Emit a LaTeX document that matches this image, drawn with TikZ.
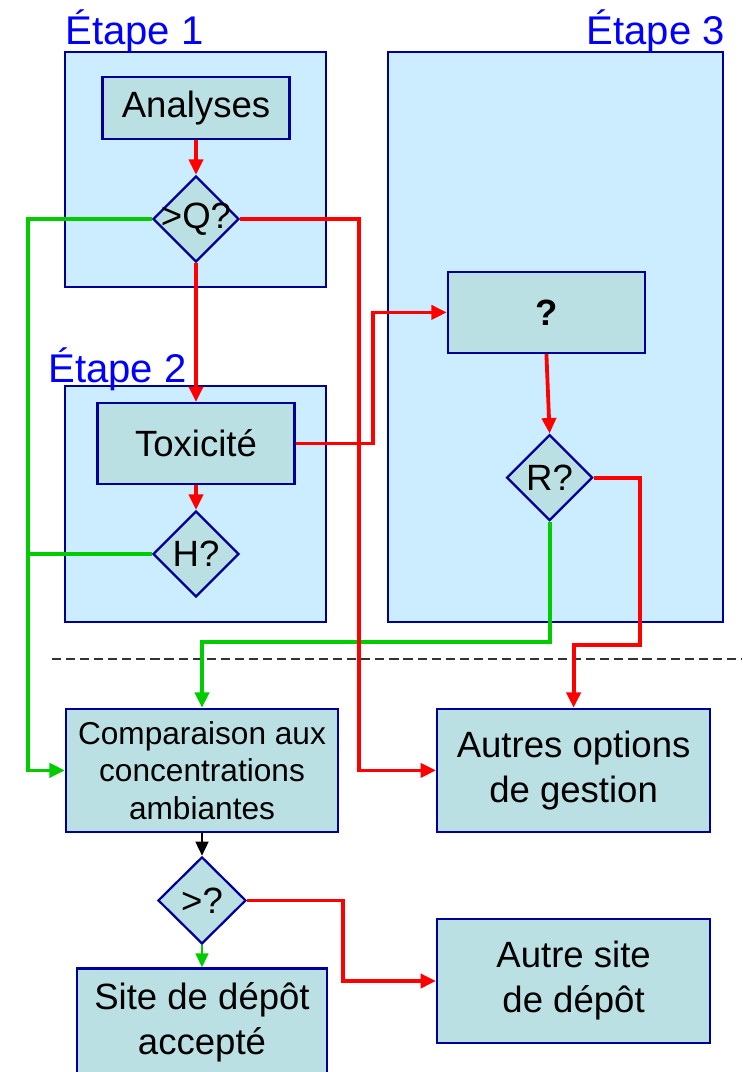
\documentclass[tikz,border=0pt]{standalone}
\usepackage{fontspec}
\setmainfont{Liberation Sans}
\usetikzlibrary{arrows.meta,shapes.geometric}

\definecolor{stagefill}{RGB}{204,236,255}
\definecolor{boxfill}{RGB}{187,224,227}
\definecolor{navy}{RGB}{0,0,153}
\definecolor{stageblue}{RGB}{0,0,255}
\definecolor{flowred}{RGB}{255,0,0}
\definecolor{flowgreen}{RGB}{0,204,0}

\begin{document}
\begin{tikzpicture}[font=\fontsize{26}{32}\selectfont,
  stage/.style={draw=navy, fill=stagefill, line width=1.6pt},
  stagelabel/.style={text=stageblue, font=\fontsize{28.5}{34}\selectfont, inner sep=0pt},
  process/.style={draw=navy, fill=boxfill, line width=1.6pt, align=center, inner sep=2pt},
  decision/.style={diamond, draw=navy, fill=boxfill, line width=1.6pt, inner sep=0pt,
    minimum width=2.15cm, minimum height=2.15cm},
  yes/.style={flowgreen, line width=2.7pt, -{Triangle[length=11pt,width=10pt]}},
  no/.style={flowred, line width=2.7pt, -{Triangle[length=11pt,width=10pt]}},
  thin arrow/.style={line width=1.8pt, -{Triangle[length=10pt,width=9pt]}}]
  \useasboundingbox (0,0) rectangle (18.55,-26.8);

  % stages
  \draw[stage] (1.625,-1.3) rectangle (8.15,-7.175);
  \draw[stage] (1.625,-9.65) rectangle (8.15,-15.55);
  \draw[stage] (9.7,-1.3) rectangle (18.075,-15.55);
  \node[stagelabel, anchor=base west] (e1) at (1.625,-1.125) {Étape 1};
  \node[stagelabel, anchor=base west] (e2) at (1.2,-9.55) {Étape 2};
  \node[stagelabel, anchor=base east] (e3) at (18.125,-1.125) {Étape 3};

  % separation
  \draw[dashed, dash pattern=on 6.5pt off 3.5pt, line width=1pt, black!80] (1.3,-16.475) -- (18.55,-16.475);

  % nodes
  \node[process, minimum width=4.675cm, minimum height=1.55cm] (an) at (4.9,-2.7) {Analyses};
  \node[decision, label=center:{>Q?}] (q1) at (4.9,-5.475) {};
  \node[process, minimum width=4.925cm, minimum height=2.025cm] (tox) at (4.9,-11.09) {Toxicité};
  \node[decision, label=center:{H?}] (h) at (4.9,-13.85) {};
  \node[process, minimum width=4.925cm, minimum height=2.025cm] (qm) at (13.66,-7.81) {\bfseries ?};
  \node[decision, label=center:{R?}] (r) at (13.74,-11.94) {};
  \node[process, minimum width=6.8cm, minimum height=3.075cm,
    font=\fontsize{22.5}{26.6}\selectfont] (comp) at (5.05,-19.26)
    {Comparaison aux\\concentrations\\ambiantes};
  \node[process, minimum width=6.825cm, minimum height=3.075cm] (autres) at (14.34,-19.26)
    {Autres options\\de gestion};
  \node[decision, minimum width=2.2cm, minimum height=2.175cm, label=center:{>?}] (gt) at (5.05,-22.51) {};
  \node[process, minimum width=6.25cm, minimum height=2.675cm] (site) at (5.05,-25.55)
    {Site de dépôt\\accepté};
  \node[process, minimum width=6.825cm, minimum height=3.1cm] (autre) at (14.34,-24.525)
    {Autre site\\de dépôt};

  \coordinate (gl) at (0.7,0);
  \coordinate (rx) at (8.975,0);
  \coordinate (tx) at (9.325,0);
  \coordinate (gx) at (8.575,0);
  \coordinate (gy) at (0,-16.05);
  \coordinate (rr) at (16,-16.125);

  % connectors
  \draw[no] (an.south) -- (q1.north);
  \draw[yes] (q1.west) -- (q1.west -| gl) |- (comp.west);
  \draw[yes, -] (h.west) -- (h.west -| gl);
  \draw[yes] (r.south) |- (comp.north |- gy) -- (comp.north);
  \draw[no] (q1.east) -- (q1.east -| rx) |- (autres.west);
  \draw[no] (q1.south) -- (tox.north);
  \draw[no] (tox.south) -- (h.north);
  \draw[no] (tox.east) -- (tox.east -| tx) |- (qm.west);
  \draw[no] (qm.south) -- (r.north);
  \draw[no] (r.east) -| (rr) -| (autres.north);
  \draw[thin arrow, black] (comp.south) -- (gt.north);
  \draw[thin arrow, flowgreen] (gt.south) -- (site.north);
  \draw[no] (gt.east) -- (gt.east -| gx) |- (autre.west);
\end{tikzpicture}
\end{document}
